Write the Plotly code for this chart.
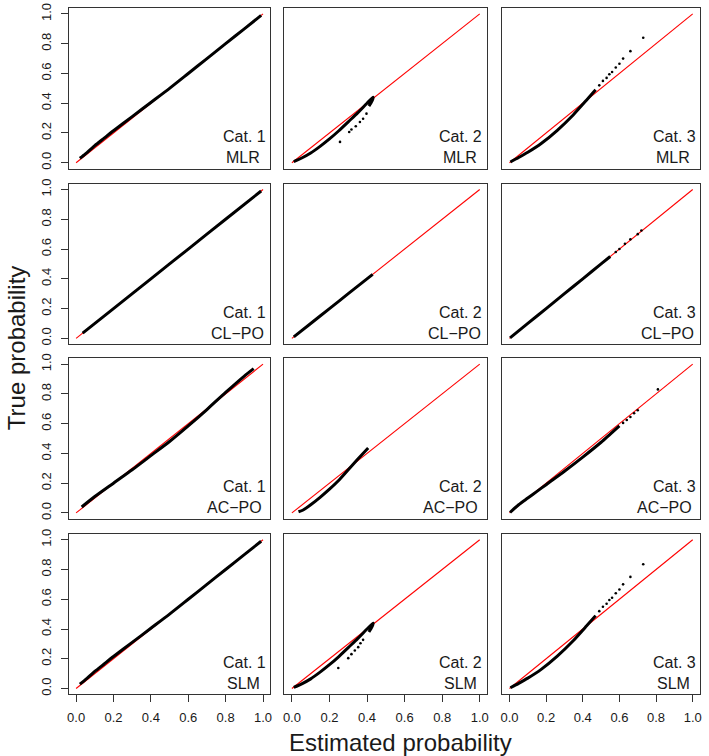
import plotly.graph_objects as go

# ---------------- data ----------------
TICK_VALS = [0.0, 0.2, 0.4, 0.6, 0.8, 1.0]
TICK_TEXT = ["0.0", "0.2", "0.4", "0.6", "0.8", "1.0"]
MODELS = ["MLR", "CL\u2212PO", "AC\u2212PO", "SLM"]
CATEGORIES = ["Cat. 1", "Cat. 2", "Cat. 3"]
DIAG = [0.0, 1.0]

# MLR
MLR_C1_X = [0.02, 0.05, 0.10, 0.15, 0.20, 0.30, 0.40, 0.50, 0.60, 0.70, 0.80, 0.90, 0.99]
MLR_C1_Y = [0.03, 0.06, 0.115, 0.165, 0.215, 0.31, 0.405, 0.50, 0.60, 0.70, 0.80, 0.90, 0.99]
MLR_C2_X = [0.01, 0.05, 0.10, 0.15, 0.20, 0.25, 0.30, 0.35, 0.40, 0.432, 0.43, 0.42, 0.41]
MLR_C2_Y = [0.008, 0.03, 0.065, 0.11, 0.16, 0.215, 0.275, 0.335, 0.40, 0.44, 0.425, 0.40, 0.38]
MLR_C2_SX = [0.397, 0.379, 0.362, 0.34, 0.317, 0.305, 0.256]
MLR_C2_SY = [0.33, 0.296, 0.274, 0.245, 0.223, 0.207, 0.14]
MLR_C3_X = [0.005, 0.05, 0.10, 0.173, 0.261, 0.349, 0.42, 0.47]
MLR_C3_Y = [0.005, 0.035, 0.07, 0.129, 0.218, 0.323, 0.42, 0.49]
MLR_C3_SX = [0.49, 0.51, 0.53, 0.545, 0.56, 0.58, 0.60, 0.62, 0.66, 0.73]
MLR_C3_SY = [0.52, 0.55, 0.57, 0.595, 0.61, 0.64, 0.665, 0.70, 0.75, 0.84]

# CL-PO
CLPO_C1_X = [0.035, 0.20, 0.40, 0.60, 0.80, 0.99]
CLPO_C1_Y = [0.035, 0.20, 0.40, 0.60, 0.80, 0.99]
CLPO_C2_X = [0.01, 0.10, 0.20, 0.30, 0.43]
CLPO_C2_Y = [0.01, 0.10, 0.20, 0.30, 0.43]
CLPO_C3_X = [0.003, 0.10, 0.20, 0.30, 0.40, 0.50, 0.55]
CLPO_C3_Y = [0.003, 0.10, 0.20, 0.30, 0.40, 0.50, 0.55]
CLPO_C3_SX = [0.58, 0.60, 0.63, 0.66, 0.70, 0.72]
CLPO_C3_SY = [0.58, 0.60, 0.635, 0.665, 0.70, 0.725]

# AC-PO
ACPO_C1_X = [0.03, 0.10, 0.20, 0.30, 0.40, 0.50, 0.60, 0.70, 0.80, 0.90, 0.95]
ACPO_C1_Y = [0.04, 0.11, 0.20, 0.29, 0.385, 0.48, 0.585, 0.695, 0.81, 0.92, 0.97]
ACPO_C2_X = [0.035, 0.06, 0.10, 0.15, 0.20, 0.25, 0.30, 0.35, 0.406]
ACPO_C2_Y = [0.008, 0.02, 0.055, 0.105, 0.16, 0.22, 0.29, 0.36, 0.436]
ACPO_C3_X = [0.003, 0.05, 0.10, 0.15, 0.20, 0.30, 0.40, 0.50, 0.55, 0.60]
ACPO_C3_Y = [0.003, 0.055, 0.10, 0.145, 0.19, 0.28, 0.375, 0.475, 0.53, 0.585]
ACPO_C3_SX = [0.62, 0.64, 0.66, 0.68, 0.70, 0.81]
ACPO_C3_SY = [0.605, 0.625, 0.645, 0.67, 0.69, 0.83]

# SLM
SLM_C1_X = [0.02, 0.05, 0.10, 0.15, 0.20, 0.30, 0.40, 0.50, 0.60, 0.70, 0.80, 0.90, 0.99]
SLM_C1_Y = [0.03, 0.06, 0.115, 0.165, 0.215, 0.31, 0.405, 0.50, 0.60, 0.70, 0.80, 0.90, 0.99]
SLM_C2_X = [0.01, 0.05, 0.10, 0.15, 0.20, 0.25, 0.30, 0.35, 0.40, 0.432, 0.43, 0.42, 0.41]
SLM_C2_Y = [0.008, 0.03, 0.065, 0.11, 0.16, 0.215, 0.275, 0.335, 0.40, 0.44, 0.425, 0.40, 0.38]
SLM_C2_SX = [0.379, 0.365, 0.353, 0.335, 0.317, 0.30, 0.247]
SLM_C2_SY = [0.327, 0.304, 0.278, 0.256, 0.231, 0.204, 0.138]
SLM_C3_X = [0.005, 0.05, 0.10, 0.173, 0.261, 0.349, 0.42, 0.47]
SLM_C3_Y = [0.005, 0.035, 0.07, 0.129, 0.218, 0.323, 0.42, 0.49]
SLM_C3_SX = [0.49, 0.51, 0.53, 0.545, 0.56, 0.58, 0.60, 0.62, 0.66, 0.73]
SLM_C3_SY = [0.52, 0.55, 0.57, 0.595, 0.61, 0.64, 0.665, 0.70, 0.75, 0.835]

PANELS = [
    [(MLR_C1_X, MLR_C1_Y, [], []), (MLR_C2_X, MLR_C2_Y, MLR_C2_SX, MLR_C2_SY), (MLR_C3_X, MLR_C3_Y, MLR_C3_SX, MLR_C3_SY)],
    [(CLPO_C1_X, CLPO_C1_Y, [], []), (CLPO_C2_X, CLPO_C2_Y, [], []), (CLPO_C3_X, CLPO_C3_Y, CLPO_C3_SX, CLPO_C3_SY)],
    [(ACPO_C1_X, ACPO_C1_Y, [], []), (ACPO_C2_X, ACPO_C2_Y, [], []), (ACPO_C3_X, ACPO_C3_Y, ACPO_C3_SX, ACPO_C3_SY)],
    [(SLM_C1_X, SLM_C1_Y, [], []), (SLM_C2_X, SLM_C2_Y, SLM_C2_SX, SLM_C2_SY), (SLM_C3_X, SLM_C3_Y, SLM_C3_SX, SLM_C3_SY)],
]

# ---------------- layout ----------------
W, H = 709, 756
COLS_PX = [(67, 270), (284, 488), (503, 702)]
ROWS_PX = [(3, 165), (180, 342), (356, 518), (533, 695)]
FONT = "Liberation Sans, Arial, Helvetica, sans-serif"
LINE_COL = "#333333"
TXT_COL = "#1a1a1a"
MODEL_LABEL_X = {"MLR": 0.895, "SLM": 0.895, "CL\u2212PO": 0.865, "AC\u2212PO": 0.845}

fig = go.Figure()
layout = dict(
    width=W, height=H,
    margin=dict(l=0, r=0, t=0, b=0),
    paper_bgcolor="white", plot_bgcolor="white",
    showlegend=False,
    font=dict(family=FONT, color=TXT_COL),
)
annotations = []

for r in range(4):
    for c in range(3):
        k = r * 3 + c + 1
        xa = "x" if k == 1 else f"x{k}"
        ya = "y" if k == 1 else f"y{k}"
        xkey = "xaxis" if k == 1 else f"xaxis{k}"
        ykey = "yaxis" if k == 1 else f"yaxis{k}"
        x0, x1 = COLS_PX[c]
        t0, b0 = ROWS_PX[r]
        show_x = (r == 3)
        show_y = (c == 0)
        layout[xkey] = dict(
            domain=[x0 / W, x1 / W], anchor=ya, range=[-0.04, 1.04],
            showgrid=False, zeroline=False, showline=True, mirror=True,
            linecolor=LINE_COL, linewidth=1,
            ticks="outside" if show_x else "", ticklen=7, tickcolor=LINE_COL, tickwidth=1,
            tickvals=TICK_VALS, ticktext=TICK_TEXT, showticklabels=show_x,
            tickfont=dict(size=13, color=TXT_COL, family=FONT), ticklabelstandoff=4,
            fixedrange=True,
        )
        layout[ykey] = dict(
            domain=[1 - b0 / H, 1 - t0 / H], anchor=xa, range=[-0.04, 1.04],
            showgrid=False, zeroline=False, showline=True, mirror=True,
            linecolor=LINE_COL, linewidth=1,
            ticks="outside" if show_y else "", ticklen=7, tickcolor=LINE_COL, tickwidth=1,
            tickvals=TICK_VALS, ticktext=TICK_TEXT, showticklabels=show_y,
            tickangle=-90, tickfont=dict(size=13, color=TXT_COL, family=FONT), ticklabelstandoff=4,
            fixedrange=True,
        )
        lx, ly, sx, sy = PANELS[r][c]
        fig.add_trace(go.Scatter(x=DIAG, y=DIAG, mode="lines", xaxis=xa, yaxis=ya,
                                 line=dict(color="#ff0000", width=1.1), hoverinfo="skip"))
        fig.add_trace(go.Scatter(x=lx, y=ly, mode="lines", xaxis=xa, yaxis=ya,
                                 line=dict(color="black", width=3.0, shape="spline", smoothing=0.6),
                                 hoverinfo="skip"))
        if sx:
            fig.add_trace(go.Scatter(x=sx, y=sy, mode="markers", xaxis=xa, yaxis=ya,
                                     marker=dict(color="black", size=2.6), hoverinfo="skip"))
        annotations.append(dict(x=0.9, y=0.175, xref=xa, yref=ya, text=CATEGORIES[c],
                                showarrow=False, xanchor="center", yanchor="middle",
                                font=dict(size=16, color=TXT_COL, family=FONT)))
        annotations.append(dict(x=MODEL_LABEL_X[MODELS[r]], y=0.035, xref=xa, yref=ya, text=MODELS[r],
                                showarrow=False, xanchor="center", yanchor="middle",
                                font=dict(size=16, color=TXT_COL, family=FONT)))

annotations.append(dict(x=401 / W, y=1 - 743 / H, xref="paper", yref="paper",
                        text="Estimated probability", showarrow=False,
                        xanchor="center", yanchor="middle",
                        font=dict(size=24, color=TXT_COL, family=FONT)))
annotations.append(dict(x=14 / W, y=1 - 345 / H, xref="paper", yref="paper",
                        text="True probability", showarrow=False, textangle=-90,
                        xanchor="center", yanchor="middle",
                        font=dict(size=24, color=TXT_COL, family=FONT)))
layout["annotations"] = annotations
fig.update_layout(**layout)
fig.write_html(
    "out.html",
    config={"displayModeBar": False, "staticPlot": True},
    post_script="document.body.style.margin='0';document.body.style.overflow='hidden';",
)
